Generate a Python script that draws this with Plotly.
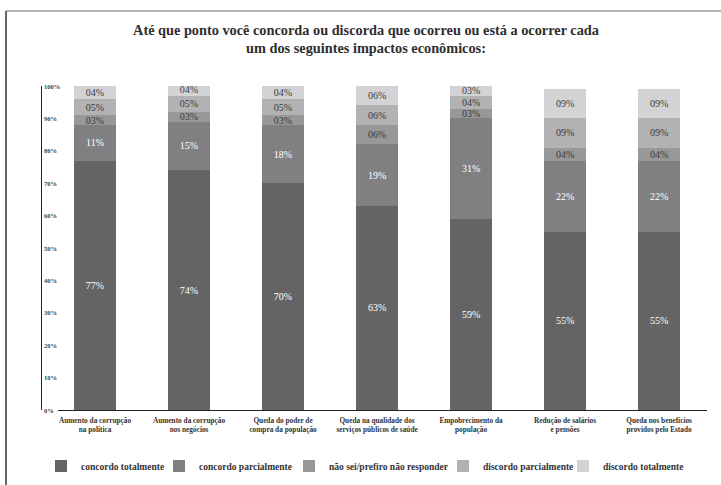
import plotly.graph_objects as go

# Impact categories (x axis)
categories = [
    "Aumento da corrupção<br>na política",
    "Aumento da corrupção<br>nos negócios",
    "Queda do poder de<br>compra da população",
    "Queda na qualidade dos<br>serviços públicos de saúde",
    "Empobrecimento da<br>população",
    "Redução de salários<br>e pensões",
    "Queda nos benefícios<br>providos pelo Estado",
]

# Response shares (%) per category
concordo_totalmente = [77, 74, 70, 63, 59, 55, 55]
concordo_parcialmente = [11, 15, 18, 19, 31, 22, 22]
nao_sei = [3, 3, 3, 6, 3, 4, 4]
discordo_parcialmente = [5, 5, 5, 6, 4, 9, 9]
discordo_totalmente = [4, 4, 4, 6, 3, 9, 9]

y_ticks = list(range(0, 101, 10))

series = [
    ("concordo totalmente", concordo_totalmente, "#646464", "#ffffff"),
    ("concordo parcialmente", concordo_parcialmente, "#808083", "#ffffff"),
    ("não sei/prefiro não responder", nao_sei, "#98989b", "#3a3a3a"),
    ("discordo parcialmente", discordo_parcialmente, "#b2b2b5", "#3a3a3a"),
    ("discordo totalmente", discordo_totalmente, "#d3d3d5", "#3a3a3a"),
]

# Left edge (px) of each legend entry's text
legend_text_left = [76, 194, 324, 478, 598]

W, H = 721, 485
TOP, BOTTOM = 86, 410  # pixel rows of 100% and 0%
font = "Liberation Serif"


def py(pixel_y):
    return (BOTTOM - pixel_y) / (BOTTOM - TOP)


fig = go.Figure()
legend_layouts = {}
for i, (name, vals, color, tcolor) in enumerate(series):
    legend_id = "legend" if i == 0 else f"legend{i + 1}"
    fig.add_trace(go.Bar(
        x=list(range(len(categories))),
        y=vals,
        name=name,
        legend=legend_id,
        marker=dict(color=color, line=dict(width=0)),
        text=[f"{v:02d}%" for v in vals],
        textposition="inside",
        insidetextanchor="middle",
        textangle=0,
        textfont=dict(family=font, size=10, color=tcolor),
        hoverinfo="skip",
    ))
    legend_layouts[legend_id] = dict(
        orientation="h",
        x=(legend_text_left[i] - 35) / W, xanchor="left",
        y=py(466), yanchor="middle",
        font=dict(family=font, size=9.5, color="#333333", weight="bold"),
        bgcolor="rgba(0,0,0,0)",
        itemclick=False, itemdoubleclick=False,
    )

fig.update_layout(
    width=W, height=H,
    barmode="stack",
    bargap=0.553,
    paper_bgcolor="white",
    plot_bgcolor="white",
    margin=dict(l=0, r=0, t=TOP, b=H - BOTTOM, pad=0),
    font=dict(family=font, color="#333333"),
    title=dict(
        text="<b>Até que ponto você concorda ou discorda que ocorreu ou está a ocorrer cada<br>um dos seguintes impactos econômicos:</b>",
        x=366 / W, xanchor="center",
        y=1 - 34.5 / H, yanchor="middle",
        font=dict(family=font, size=14.3, color="#2e2e2e"),
    ),
    xaxis=dict(
        domain=[58 / W, 707 / W],
        range=[-0.394, 6.51],
        tickmode="array",
        tickvals=list(range(len(categories))),
        ticktext=[f"<b>{c}</b>" for c in categories],
        tickfont=dict(family=font, size=7.3, color="#333333"),
        showline=True, linecolor="#222222", linewidth=1.2,
        showgrid=False, zeroline=False, ticks="",
        ticklabelstandoff=3,
    ),
    yaxis=dict(
        range=[0, 100],
        showticklabels=False,
        anchor="free", position=40.5 / W,
        showline=True, linecolor="#222222", linewidth=1.2,
        showgrid=False, zeroline=False, ticks="",
    ),
    uniformtext=dict(minsize=10, mode="show"),
    showlegend=True,
    **legend_layouts,
)

# Percentage labels just right of the y axis line
for t in y_ticks:
    fig.add_annotation(
        xref="paper", yref="y", x=41.5 / W, y=t,
        xanchor="left", yanchor="middle", showarrow=False,
        text=f"<b>{t}%</b>",
        font=dict(family=font, size=6.5, color="#444444"),
    )

# Frame lines along the top and left edge of the chart
fig.add_shape(type="line", xref="paper", yref="paper",
              x0=6 / W, x1=1.0, y0=py(11), y1=py(11),
              line=dict(color="#9a9a9a", width=1.5))
fig.add_shape(type="line", xref="paper", yref="paper",
              x0=6 / W, x1=6 / W, y0=py(11), y1=py(H),
              line=dict(color="#333333", width=1.5))

fig.write_html("out.html")
